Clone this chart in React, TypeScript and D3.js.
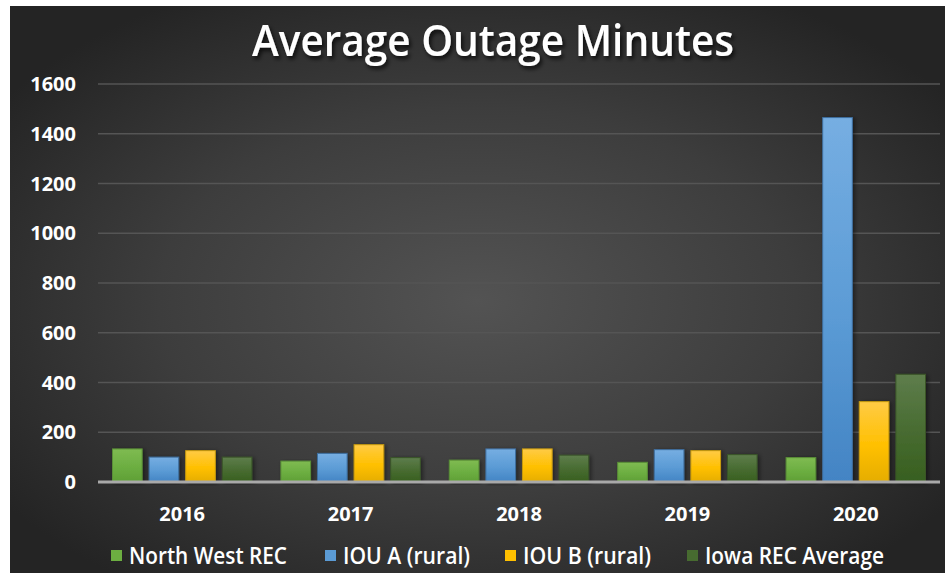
import React from 'react';
import * as d3 from 'd3';

const years = ['2016', '2017', '2018', '2019', '2020'];
const seriesNames = ['North West REC', 'IOU A (rural)', 'IOU B (rural)', 'Iowa REC Average'];
const northWestRec = [133, 84, 88, 79, 98];
const iouA = [100, 115, 133, 130, 1465];
const iouB = [126, 150, 133, 126, 323];
const iowaRecAvg = [100, 98, 108, 110, 433];
const yTicks = [0, 200, 400, 600, 800, 1000, 1200, 1400, 1600];

const seriesValues = [northWestRec, iouA, iouB, iowaRecAvg];

// top / bottom colour of each bar gradient, plus border
const seriesStyle = [
  { top: '#7fbb52', mid: '#6cae41', bottom: '#5f9f35', stroke: '#5a8f37' },
  { top: '#76aee2', mid: '#5b9bd5', bottom: '#4384c4', stroke: '#3f6f9f' },
  { top: '#ffcb45', mid: '#ffc000', bottom: '#e5ad00', stroke: '#c79a10' },
  { top: '#5e7d4c', mid: '#476b30', bottom: '#375f1f', stroke: '#3a5528' },
];

const legendPos = [
  { x: 111, w: 158 },
  { x: 325, w: 127 },
  { x: 505, w: 128 },
  { x: 687, w: 179 },
];

const W = 945;
const H = 573;
const margin = { left: 98, right: 5, top: 84, bottom: 91 };

const App: React.FC = () => {
  const plotRight = W - margin.right;
  const plotBottom = H - margin.bottom;

  const y = d3.scaleLinear().domain([0, 1600]).range([plotBottom, margin.top]);
  const x0 = d3.scaleBand<string>().domain(years).range([margin.left, plotRight]).padding(0);
  const groupPad = 14.5;
  const x1 = d3
    .scaleBand<number>()
    .domain(d3.range(seriesNames.length))
    .range([groupPad, x0.bandwidth() - groupPad])
    .paddingInner(0.19)
    .paddingOuter(0);

  const font = "'Open Sans', 'DejaVu Sans', sans-serif";

  return (
    <svg
      width={W}
      height={H}
      style={{ position: 'fixed', left: 0, top: 0, display: 'block' }}
    >
      <defs>
        <radialGradient id="bg" cx="50%" cy="52%" r="62%">
          <stop offset="0%" stopColor="#535353" />
          <stop offset="55%" stopColor="#3d3d3d" />
          <stop offset="100%" stopColor="#242424" />
        </radialGradient>
        {seriesStyle.map((s, i) => (
          <linearGradient key={i} id={`bar${i}`} x1="0" y1="0" x2="0" y2="1">
            <stop offset="0%" stopColor={s.top} />
            <stop offset="55%" stopColor={s.mid} />
            <stop offset="100%" stopColor={s.bottom} />
          </linearGradient>
        ))}
        <filter id="titleShadow" x="-10%" y="-30%" width="120%" height="160%">
          <feDropShadow dx="2" dy="3" stdDeviation="2" floodColor="#000" floodOpacity="0.75" />
        </filter>
        <filter id="barShadow" x="-30%" y="-10%" width="160%" height="120%">
          <feDropShadow dx="2" dy="1" stdDeviation="2" floodColor="#000" floodOpacity="0.45" />
        </filter>
      </defs>

      <rect x={0} y={0} width={W} height={H} fill="#ffffff" />
      <rect x={10} y={6} width={W - 10} height={H - 6} fill="url(#bg)" />

      <text
        x={493}
        y={56}
        textAnchor="middle"
        fill="#ffffff"
        fontFamily={font}
        fontWeight={600}
        fontSize={44}
        textLength={482}
        lengthAdjust="spacingAndGlyphs"
        filter="url(#titleShadow)"
      >
        Average Outage Minutes
      </text>

      {/* gridlines */}
      {yTicks.filter((t) => t > 0).map((t) => (
        <line
          key={t}
          x1={margin.left}
          x2={plotRight}
          y1={y(t)}
          y2={y(t)}
          stroke="#555555"
          strokeWidth={1.5}
        />
      ))}

      {/* y axis labels */}
      {yTicks.map((t) => (
        <text
          key={t}
          x={76}
          y={y(t)}
          dy="0.35em"
          textAnchor="end"
          fill="#ffffff"
          fontFamily={font}
          fontWeight={700}
          fontSize={20}
        >
          {t}
        </text>
      ))}

      {/* bars */}
      {years.map((yr, gi) => (
        <g key={yr} transform={`translate(${x0(yr)},0)`}>
          {seriesValues.map((vals, si) => (
            <rect
              key={si}
              x={x1(si)}
              y={y(vals[gi])}
              width={x1.bandwidth()}
              height={plotBottom - y(vals[gi])}
              fill={`url(#bar${si})`}
              stroke={seriesStyle[si].stroke}
              strokeWidth={1}
              filter="url(#barShadow)"
            />
          ))}
        </g>
      ))}

      {/* baseline */}
      <line
        x1={margin.left}
        x2={plotRight}
        y1={plotBottom}
        y2={plotBottom}
        stroke="#a9a9a9"
        strokeWidth={3}
      />

      {/* x labels */}
      {years.map((yr) => (
        <text
          key={yr}
          x={(x0(yr) ?? 0) + x0.bandwidth() / 2}
          y={514}
          dy="0.35em"
          textAnchor="middle"
          fill="#ffffff"
          fontFamily={font}
          fontWeight={700}
          fontSize={20}
        >
          {yr}
        </text>
      ))}

      {/* legend */}
      {seriesNames.map((name, i) => (
        <g key={name}>
          <rect
            x={legendPos[i].x}
            y={550}
            width={11}
            height={11}
            fill={seriesStyle[i].mid}
          />
          <text
            x={legendPos[i].x + 18}
            y={555.5}
            dy="0.35em"
            fill="#ffffff"
            fontFamily={font}
            fontWeight={600}
            fontSize={23}
            textLength={legendPos[i].w}
            lengthAdjust="spacingAndGlyphs"
          >
            {name}
          </text>
        </g>
      ))}
    </svg>
  );
};

export default App;
